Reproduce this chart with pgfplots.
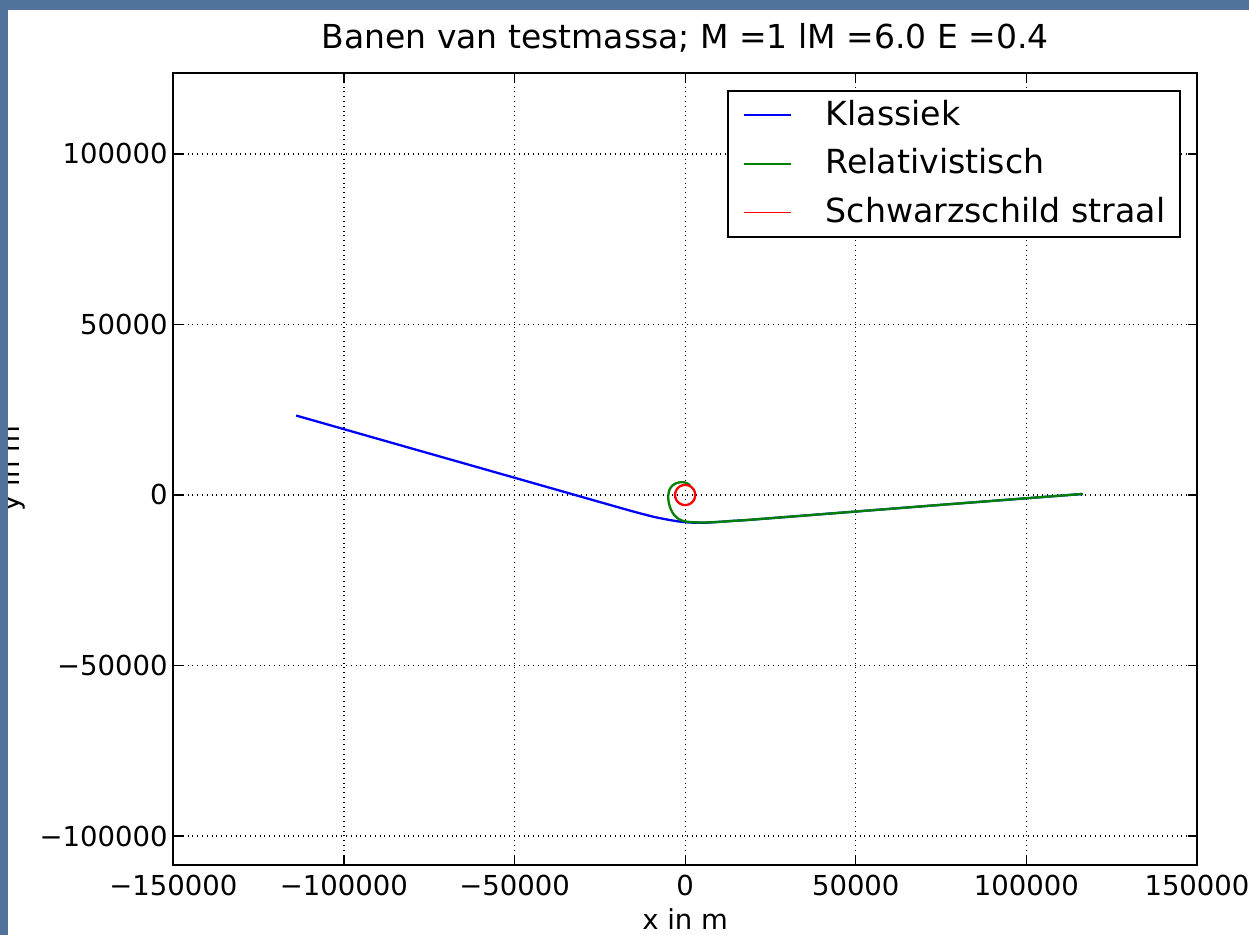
\documentclass[border=0pt]{standalone}
\usepackage{fontspec}
\setmainfont{DejaVu Sans}
\usepackage{pgfplots}
\pgfplotsset{compat=1.18}
\definecolor{bgblue}{RGB}{80,114,155}
\definecolor{mplgreen}{RGB}{0,128,0}

\pgfplotstableread{
x y
-114000 23300
-80000 13600
-50000 5060
-25000 -2070
-15000 -4900
-9000 -6450
-5000 -7250
-2000 -7750
1000 -8050
4000 -8150
7000 -8080
10000 -7880
14000 -7600
20000 -7200
50000 -4850
80000 -2500
116500 300
}\klassiek

\pgfplotstableread{
x y
116500 300
80000 -2500
50000 -4850
20000 -7200
14000 -7600
10000 -7880
6000 -8050
2500 -8000
0 -7750
-1800 -7100
-3200 -5900
-4200 -4200
-4800 -2200
-4950 -200
-4600 1500
-3800 2700
-2600 3450
-1300 3750
0 3650
900 3250
1400 2800
}\relativistisch

\pgfplotstableread{
x y
2953 0
2908 513
2775 1010
2557 1477
2262 1898
1898 2262
1477 2557
1010 2775
513 2908
0 2953
-513 2908
-1010 2775
-1477 2557
-1898 2262
-2262 1898
-2557 1477
-2775 1010
-2908 513
-2953 0
-2908 -513
-2775 -1010
-2557 -1477
-2262 -1898
-1898 -2262
-1477 -2557
-1010 -2775
-513 -2908
0 -2953
513 -2908
1010 -2775
1477 -2557
1898 -2262
2262 -1898
2557 -1477
2775 -1010
2908 -513
2953 0
}\schwarzschild

\begin{document}
\begin{tikzpicture}[x=0.5pt,y=0.5pt]
\fill[white] (0,0) rectangle (1249,935);
\useasboundingbox (0,0) rectangle (1249,935);
\begin{axis}[
  at={(86.65pt,35pt)}, anchor=south west,
  scale only axis, width=511.85pt, height=396pt,
  xmin=-150000, xmax=150000, ymin=-108500, ymax=123750,
  scaled ticks=false,
  axis line style={black, line width=1.1pt},
  grid=major,
  major grid style={black, dotted, line width=0.6pt},
  tick align=inside, major tick length=4.6pt,
  tick style={black, line width=0.6pt},
  xtick={-150000,-100000,-50000,0,50000,100000,150000},
  xticklabels={−150000,−100000,−50000,0,50000,100000,150000},
  ytick={-100000,-50000,0,50000,100000},
  yticklabels={−100000,−50000,0,50000,100000},
  ticklabel style={font=\fontsize{13.75}{16}\selectfont},
  x tick label style={anchor=north, inner sep=0pt, yshift=-4.7pt},
  y tick label style={anchor=east, inner sep=0pt, xshift=-2.6pt},
  title={Banen van testmassa; M =1 lM =6.0 E =0.4},
  title style={font=\fontsize{16.5}{19}\selectfont, at={(0.5,1)}, anchor=base, inner sep=0pt, yshift=6.2pt},
  xlabel={x in m},
  xlabel style={font=\fontsize{13.75}{16}\selectfont, at={(axis description cs:0.5,0)}, anchor=base, inner sep=0pt, yshift=-32.5pt},
  legend cell align=left,
  legend style={at={(axis description cs:1,1)}, anchor=north east, xshift=-7.8pt, yshift=-8.5pt,
    draw=black, line width=1pt, inner xsep=7.6pt, inner ysep=4pt,
    row sep=7.9pt, column sep=0pt,
    font=\fontsize{16.6}{19}\selectfont,
    nodes={inner sep=0pt, text height=13.2pt, text depth=3.2pt},
    /tikz/every odd column/.style={column sep=17pt}},
  legend image code/.code={\draw[#1, line width=0.9pt] (0pt,0pt) -- (23.5pt,0pt);},
]
\addplot[blue, line width=1.15pt, smooth, tension=0.4] table {\klassiek};
\addlegendentry{Klassiek}
\addplot[mplgreen, line width=1.15pt, smooth, tension=0.5] table {\relativistisch};
\addlegendentry{Relativistisch}
\addplot[red, line width=1.15pt] table {\schwarzschild};
\addlegendentry{Schwarzschild straal}
\end{axis}
\node[rotate=90, anchor=base, inner sep=0pt, font=\fontsize{13.75}{16}\selectfont] at (19.5,466.5) {y in m};
\fill[bgblue] (0,0) rectangle (7.5,935);
\fill[bgblue] (0,925) rectangle (1249,935);
\end{tikzpicture}
\end{document}
